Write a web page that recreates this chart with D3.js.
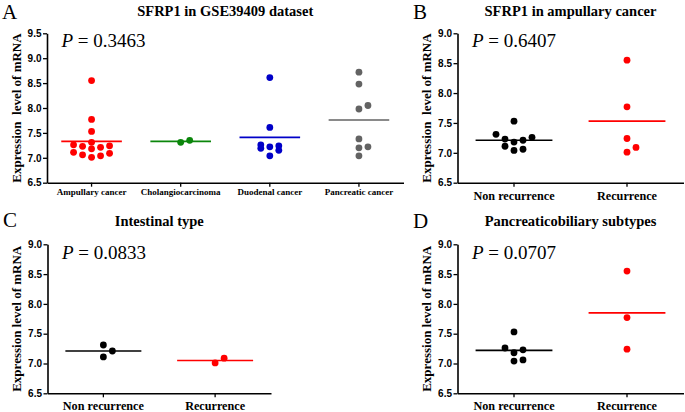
<!DOCTYPE html>
<html><head><meta charset="utf-8">
<script src="https://cdn.jsdelivr.net/npm/d3@7"></script>
<style>body{margin:0;background:#fff}svg{display:block}</style>
</head><body><svg id="c" width="685" height="412"></svg>
<script>
// ---------- data ----------
const panelACategories = ["Ampullary cancer", "Cholangiocarcinoma", "Duodenal cancer", "Pancreatic cancer"];
const ampullaryValues = [8.55, 7.77, 7.53, 7.31, 7.26, 7.24, 7.23, 7.21, 7.18, 7.11, 7.09, 7.06, 7.04, 7.01];
const cholangioValues = [7.31, 7.35];
const duodenalValues = [8.61, 7.61, 7.26, 7.24, 7.22, 7.19, 7.15, 7.04];
const pancreaticValues = [8.72, 8.48, 8.05, 7.98, 7.38, 7.22, 7.20, 7.04];
const panelACenters = [7.33, 7.33, 7.41, 7.76];
const panelAYTicks = [6.5, 7.0, 7.5, 8.0, 8.5, 9.0, 9.5];

const recurrenceCategories = ["Non recurrence", "Recurrence"];
const ampNonRecValues = [7.53, 7.31, 7.26, 7.23, 7.21, 7.18, 7.11, 7.06, 7.04];
const ampRecValues = [8.55, 7.77, 7.24, 7.09, 7.01];
const panelBCenters = [7.21, 7.53];
const intNonRecValues = [7.31, 7.21, 7.11];
const intRecValues = [7.09, 7.01];
const panelCCenters = [7.21, 7.05];
const pbNonRecValues = [7.53, 7.26, 7.23, 7.18, 7.06, 7.04];
const pbRecValues = [8.55, 7.77, 7.24];
const panelDCenters = [7.22, 7.85];
const subYTicks = [6.5, 7.0, 7.5, 8.0, 8.5, 9.0];

const panelLetters = ["A", "B", "C", "D"];
const panelTitles = ["SFRP1 in GSE39409 dataset", "SFRP1 in ampullary cancer", "Intestinal type", "Pancreaticobiliary subtypes"];
const pValues = ["0.3463", "0.6407", "0.0833", "0.0707"];
const yAxisTitles = ["Expression\u00a0 level of mRNA", "Expression\u00a0 level of mRNA", "Expression level of mRNA", "Expression level of mRNA"];

// ---------- styles / layout ----------
const SERIF = "'Times New Roman', 'Liberation Serif', serif";
const SANS = "Arial, 'Liberation Sans', sans-serif";
const RED = "#ff0000", GREEN = "#0b860b", BLUE = "#0000c8", GRAY = "#636363", BLACK = "#000000";

const panels = [
  { x0: 47, x1: 403.5, yTop: 33.3, yBot: 182.7, domain: [6.5, 9.5], ticks: panelAYTicks,
    cats: panelACategories, groups: [ampullaryValues, cholangioValues, duodenalValues, pancreaticValues],
    centers: panelACenters, colors: [RED, GREEN, BLUE, GRAY], catFont: 9, catBaseline: 195,
    letter: { x: 2, y: 19 }, titleY: 16, pY: 46.7, yTitleX: 20.5 },
  { x0: 457.5, x1: 683.5, yTop: 33.3, yBot: 182.7, domain: [6.5, 9.0], ticks: subYTicks,
    cats: recurrenceCategories, groups: [ampNonRecValues, ampRecValues],
    centers: panelBCenters, colors: [BLACK, RED], catFont: 12.2, catBaseline: 200,
    letter: { x: 413, y: 19 }, titleY: 16, pY: 46.7, yTitleX: 430.5 },
  { x0: 47.5, x1: 271, yTop: 244.3, yBot: 393.3, domain: [6.5, 9.0], ticks: subYTicks,
    cats: recurrenceCategories, groups: [intNonRecValues, intRecValues],
    centers: panelCCenters, colors: [BLACK, RED], catFont: 12.2, catBaseline: 410.5,
    letter: { x: 3, y: 226.5 }, titleY: 226.3, pY: 258.8, yTitleX: 20.5 },
  { x0: 457.5, x1: 683.5, yTop: 244.3, yBot: 393.3, domain: [6.5, 9.0], ticks: subYTicks,
    cats: recurrenceCategories, groups: [pbNonRecValues, pbRecValues],
    centers: panelDCenters, colors: [BLACK, RED], catFont: 12.2, catBaseline: 410.5,
    letter: { x: 413, y: 228 }, titleY: 226.3, pY: 258.8, yTitleX: 430.5 }
];

const svg = d3.select("#c");
svg.append("rect").attr("width", 685).attr("height", 412).attr("fill", "#fff");

const DOT_R = 3.4, STEP = 9, ROW_H = 7.9, ROW_MAX = 5;
const slotOrder = [0, 1, -1, 2, -2];

// Prism-like column scatter: group nearly equal values into rows, spread them sideways
function scatterLayout(values, y) {
  const sorted = values.slice().sort((a, b) => a - b);
  const out = [];
  let rowStart = null, count = 0;
  sorted.forEach(v => {
    const py = y(v);
    if (rowStart === null || rowStart - py >= ROW_H || count >= ROW_MAX) { rowStart = py; count = 0; }
    out.push({ v, dx: slotOrder[count] * STEP });
    count++;
  });
  return out;
}

panels.forEach((p, i) => {
  const g = svg.append("g");
  const x = d3.scaleBand().domain(p.cats).range([p.x0, p.x1]).paddingInner(0).paddingOuter(0);
  const y = d3.scaleLinear().domain(p.domain).range([p.yBot, p.yTop]);

  // y axis
  const ya = g.append("g").attr("transform", `translate(${p.x0},0)`)
    .call(d3.axisLeft(y).tickValues(p.ticks).tickFormat(d3.format(".1f")).tickSize(4).tickSizeOuter(0).tickPadding(1.5));
  ya.select(".domain").attr("stroke", "#000").attr("stroke-width", 1.6);
  ya.selectAll(".tick line").attr("stroke", "#000").attr("stroke-width", 1.3);
  ya.selectAll(".tick text").attr("font-family", SANS).attr("font-weight", "bold").attr("font-size", 10).attr("fill", "#000");

  // x axis
  const xa = g.append("g").attr("transform", `translate(0,${p.yBot})`)
    .call(d3.axisBottom(x).tickSize(4).tickSizeOuter(0));
  xa.select(".domain").attr("stroke", "#000").attr("stroke-width", 1.6);
  xa.selectAll(".tick line").attr("stroke", "#000").attr("stroke-width", 1.3);
  xa.selectAll(".tick text").attr("font-family", SERIF).attr("font-weight", "bold")
    .attr("font-size", p.catFont).attr("fill", "#000").attr("dy", null).attr("y", p.catBaseline - p.yBot);

  // center lines
  const half = x.bandwidth() * 0.34;
  g.selectAll(".cl").data(p.centers).join("line")
    .attr("x1", (d, k) => x(p.cats[k]) + x.bandwidth() / 2 - half)
    .attr("x2", (d, k) => x(p.cats[k]) + x.bandwidth() / 2 + half)
    .attr("y1", d => y(d)).attr("y2", d => y(d))
    .attr("stroke", (d, k) => p.colors[k]).attr("stroke-width", 1.6);

  // dots
  p.groups.forEach((vals, k) => {
    const cx = x(p.cats[k]) + x.bandwidth() / 2;
    g.append("g").selectAll("circle").data(scatterLayout(vals, y)).join("circle")
      .attr("cx", d => cx + d.dx).attr("cy", d => y(d.v)).attr("r", DOT_R)
      .attr("fill", p.colors[k]);
  });

  // y axis title
  g.append("text")
    .attr("transform", `translate(${p.yTitleX},${(p.yTop + p.yBot) / 2}) rotate(-90)`)
    .attr("text-anchor", "middle").attr("font-family", SERIF).attr("font-weight", "bold")
    .attr("font-size", 13).attr("fill", "#000").text(yAxisTitles[i]);

  // title
  g.append("text").attr("x", (p.x0 + p.x1) / 2).attr("y", p.titleY)
    .attr("text-anchor", "middle").attr("font-family", SERIF).attr("font-weight", "bold")
    .attr("font-size", 14.5).attr("fill", "#000").text(panelTitles[i]);

  // panel letter
  g.append("text").attr("x", p.letter.x).attr("y", p.letter.y)
    .attr("font-family", SERIF).attr("font-size", 21).attr("fill", "#000").text(panelLetters[i]);

  // P value
  const pt = g.append("text").attr("x", p.x0 + 14.5).attr("y", p.pY)
    .attr("font-family", SERIF).attr("font-size", 19).attr("fill", "#000");
  pt.append("tspan").attr("font-style", "italic").text("P");
  pt.append("tspan").text(" = " + pValues[i]);
});
</script>
</body></html>
